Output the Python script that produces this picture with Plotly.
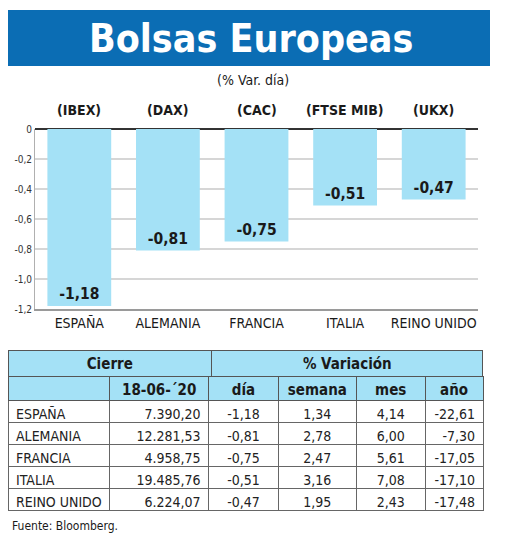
import plotly.graph_objects as go

# datos
paises = ["ESPAÑA", "ALEMANIA", "FRANCIA", "ITALIA", "REINO UNIDO"]
indices = ["(IBEX)", "(DAX)", "(CAC)", "(FTSE MIB)", "(UKX)"]
var_dia = [-1.18, -0.81, -0.75, -0.51, -0.47]
cierre = [7390.20, 12281.53, 4958.75, 19485.76, 6224.07]
var_semana = [1.34, 2.78, 2.47, 3.16, 1.95]
var_mes = [4.14, 6.00, 5.61, 7.08, 2.43]
var_anio = [-22.61, -7.30, -17.05, -17.10, -17.48]

y_ticks = [0, -0.2, -0.4, -0.6, -0.8, -1.0, -1.2]
y_ticktext = ["0", "-0,2", "-0,4", "-0,6", "-0,8", "-1,0", "-1,2"]

fecha = "18-06-´20"
fuente = "Fuente: Bloomberg."

W, H = 520, 541
OFF = 8  # la página deja 8px de margen en el body
FONT = "DejaVu Sans Condensed, Liberation Sans Narrow, Roboto, sans-serif"
BLUE = "#0b6db4"
LIGHT = "#a4e1f6"
INK = "#1a1a1a"


def px(x):
    return (x - OFF) / W


def py(y):
    return 1 - (y - OFF) / H


def es(v):
    # formato español: miles con punto, decimales con coma
    return f"{v:,.2f}".replace(",", "X").replace(".", ",").replace("X", ".")


fig = go.Figure()

fig.add_trace(go.Bar(
    x=paises, y=var_dia,
    marker=dict(color=LIGHT, line=dict(width=0)),
    width=0.72,
    text=[es(v) for v in var_dia],
    textposition="inside", insidetextanchor="end", textangle=0,
    textfont=dict(family=FONT, size=15.5, color=INK, weight="bold"),
    hoverinfo="skip",
))

tx = [max(0, px(7)), px(483)]

# tabla: fila superior con celdas combinadas
fig.add_trace(go.Table(
    domain=dict(x=tx, y=[py(400), py(350)]),
    columnwidth=[204, 272],
    header=dict(values=["Cierre", "% Variación"],
                fill_color=LIGHT, line=dict(color="#555", width=1),
                align="center", height=26,
                font=dict(family=FONT, size=15, color=INK, weight="bold")),
    cells=dict(values=[[""], [""]], fill_color="white",
               line=dict(color="white", width=0), height=20),
))

# la celda no debe partir "REINO UNIDO" en dos líneas
nombres_tabla = [p.replace(" ", "\u00a0") for p in paises]

fig.add_trace(go.Table(
    domain=dict(x=tx, y=[py(512), py(376)]),
    columnwidth=[102, 99, 70, 78, 69, 58],
    header=dict(values=["", fecha, "día", "semana", "mes", "año"],
                fill_color=LIGHT, line=dict(color="#555", width=1),
                align="center", height=24,
                font=dict(family=FONT, size=15, color=INK, weight="bold")),
    cells=dict(values=[nombres_tabla,
                       [es(v) for v in cierre],
                       [es(v) for v in var_dia],
                       [es(v) for v in var_semana],
                       [es(v) for v in var_mes],
                       [es(v) for v in var_anio]],
               fill_color="white", line=dict(color="#666", width=1),
               align=["left", "right", "center", "center", "center", "right"],
               height=22,
               font=dict(family=FONT, size=14, color="#222")),
))

annotations = [
    dict(text="Bolsas Europeas", x=px(251), y=py(38),
         font=dict(family=FONT, size=39, color="white", weight="bold")),
    dict(text="(% Var. día)", x=px(253), y=py(80),
         font=dict(family=FONT, size=14, color=INK)),
    dict(text=fuente, x=px(10), y=py(526), xanchor="left",
         font=dict(family=FONT, size=12, color=INK)),
]
for p, idx in zip(paises, indices):
    annotations.append(dict(text=idx, x=p, xref="x", y=py(110),
                            font=dict(family=FONT, size=14, color=INK, weight="bold")))
for a in annotations:
    a.setdefault("xref", "paper")
    a.setdefault("xanchor", "center")
    a.update(yref="paper", yanchor="middle", showarrow=False)

fig.update_layout(
    width=W, height=H,
    margin=dict(l=0, r=0, t=0, b=0, pad=0),
    paper_bgcolor="white", plot_bgcolor="white",
    showlegend=False,
    font=dict(family=FONT, color=INK),
    shapes=[dict(type="rect", xref="paper", yref="paper",
                 x0=px(5), x1=px(490), y0=py(66), y1=py(10),
                 fillcolor=BLUE, line=dict(width=0), layer="below")],
    annotations=annotations,
    xaxis=dict(domain=[px(35), px(478)], range=[-0.5, 4.5], automargin=False,
               showline=True, linecolor="#9a9a9a", linewidth=1.5,
               ticks="", tickfont=dict(family=FONT, size=14, color=INK),
               fixedrange=True),
    yaxis=dict(domain=[py(309), py(129)], range=[-1.2, 0], automargin=False,
               tickvals=y_ticks, ticktext=y_ticktext,
               showline=True, linecolor="#b0b0b0", linewidth=1,
               gridcolor="#d6d6d6", gridwidth=1.5,
               zeroline=True, zerolinecolor="#333", zerolinewidth=1.5,
               ticks="", tickfont=dict(family=FONT, size=10, color="#333"),
               fixedrange=True),
)

fig.write_html("out.html")
